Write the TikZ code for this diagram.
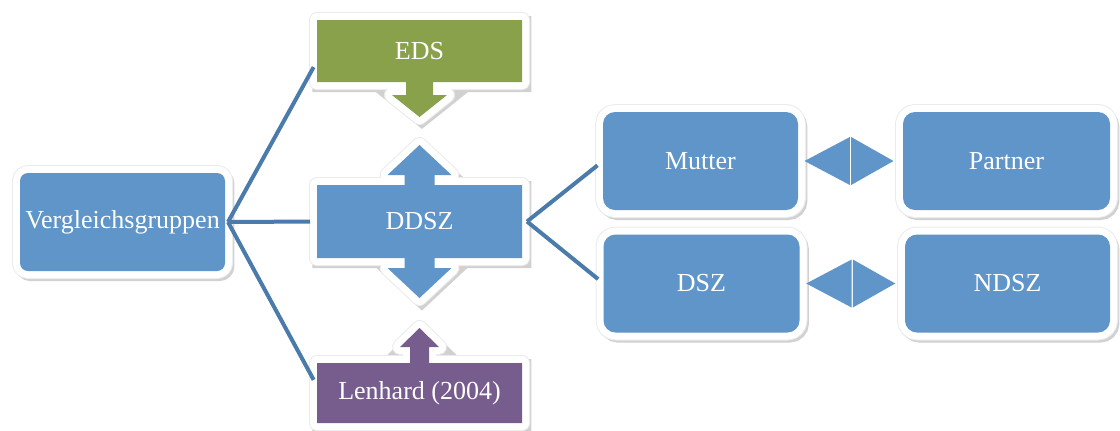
\documentclass[tikz,border=0pt]{standalone}
\usepackage{fontspec}
\setmainfont{Liberation Serif}
\usetikzlibrary{positioning,shadows,calc,backgrounds}
\definecolor{boxblue}{RGB}{95,149,201}
\definecolor{lineblue}{RGB}{74,123,171}
\definecolor{edsgreen}{RGB}{138,161,76}
\definecolor{lenpurple}{RGB}{118,93,142}
\tikzset{
  shade/.style={drop shadow={shadow xshift=1.2pt,shadow yshift=-1.5pt,
      opacity=.18,fill=black,draw=black,line width=7pt}},
  frame/.style={preaction={draw=black!8,line width=8pt,line join=round},
      preaction={draw=white,line width=7pt,line join=round}},
  Label/.style={text=white,inner sep=0pt,outer sep=0pt,
      font=\fontsize{13}{15}\selectfont},
  Group/.style={Label,shade,frame,fill=boxblue,rounded corners=6pt,
      minimum width=98pt,minimum height=49pt},
  Call/.style={Label,minimum width=102.5pt},
  Link/.style={draw=lineblue,line width=2pt,shorten >=3.5pt},
  Twin/.style={fill=boxblue}
}
\begin{document}
\begin{tikzpicture}[x=0.5pt,y=-0.5pt]
  \useasboundingbox (0,0) rectangle (1120,430);

  % groups
  \node (vg) [Group,rounded corners=4pt,minimum width=102.5pt] at (122.5,222) {Vergleichsgruppen};
  \node (mutter) [Group,minimum width=97.5pt] at (700.5,161) {Mutter};
  \node (partner) [Group,minimum width=103.5pt] at (1006.5,161) {Partner};
  \node (dsz) [Group] at (701.5,283.5) {DSZ};
  \node (ndsz) [Group,minimum width=102.5pt] at (1007.5,283.5) {NDSZ};

  % callouts
  \node (eds) [Call,minimum height=31pt] at (419.5,51) {EDS};
  \node (ddsz) [Call,minimum height=36.5pt] at (419.5,221.5) {DDSZ};
  \node (lenhard) [Call,minimum height=30pt] at (419.5,393) {Lenhard (2004)};

  \begin{scope}[on background layer]
    \path[shade,frame,fill=edsgreen]
      (eds.north west) -- (eds.north east) -- (eds.south east)
      -- ($(eds.south)+(13.5,0)$) -- ++(0,13) -- ++(14,0)
      -- ($(eds.south)+(0,35)$)
      -- ($(eds.south)+(-27.5,13)$) -- ++(14,0)
      -- ($(eds.south)+(-13.5,0)$) -- (eds.south west) -- cycle;

    \path[shade,frame,fill=boxblue]
      (ddsz.north west) -- ($(ddsz.north)+(-15,0)$) -- ++(0,-10) -- ++(-17,0)
      -- ($(ddsz.north)+(0,-40)$)
      -- ($(ddsz.north)+(32,-10)$) -- ++(-17,0)
      -- ($(ddsz.north)+(15,0)$) -- (ddsz.north east) -- (ddsz.south east)
      -- ($(ddsz.south)+(15,0)$) -- ++(0,10) -- ++(17,0)
      -- ($(ddsz.south)+(0,40)$)
      -- ($(ddsz.south)+(-32,10)$) -- ++(17,0)
      -- ($(ddsz.south)+(-15,0)$) -- (ddsz.south west) -- cycle;

    \path[shade,frame,fill=lenpurple]
      (lenhard.north west) -- ($(lenhard.north)+(-9.5,0)$) -- ++(0,-16) -- ++(-10,0)
      -- ($(lenhard.north)+(0,-35)$)
      -- ($(lenhard.north)+(19.5,-16)$) -- ++(-10,0)
      -- ($(lenhard.north)+(9.5,0)$) -- (lenhard.north east)
      -- (lenhard.south east) -- (lenhard.south west) -- cycle;
  \end{scope}

  % connectors
  \coordinate (hub) at ($(vg.east)+(3,0)$);
  \coordinate (fork) at ($(ddsz.east)+(5,0)$);
  \draw[Link] (hub) -- ($(eds.west)+(0,10)$);
  \draw[Link] (hub) -- (ddsz.west);
  \draw[Link] (hub) -- ($(lenhard.west)+(0,-7)$);
  \draw[Link] (fork) -- (mutter.west);
  \draw[Link] (fork) -- (dsz.west);

  % twin arrows
  \foreach \a/\b in {mutter/partner,dsz/ndsz}{
    \coordinate (mid) at ($(\a.east)!.5!(\b.west)$);
    \fill[Twin] ($(mid)+(-0.6,-24)$) -- ($(mid)+(-46,0)$) -- ($(mid)+(-0.6,24)$) -- cycle;
    \fill[Twin] ($(mid)+(0.6,-24)$) -- ($(mid)+(43,0)$) -- ($(mid)+(0.6,24)$) -- cycle;
  }
\end{tikzpicture}
\end{document}
